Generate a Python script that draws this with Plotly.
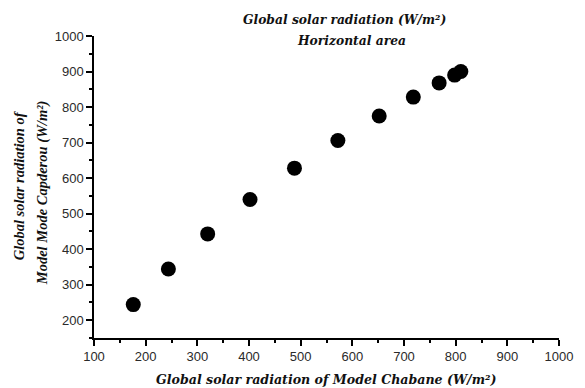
import plotly.graph_objects as go

chabane = [176, 244, 320, 402, 488, 572, 652, 718, 768, 798, 810]
capderou = [244, 344, 443, 540, 628, 706, 775, 828, 868, 890, 900]

x_ticks = [100, 200, 300, 400, 500, 600, 700, 800, 900, 1000]
y_ticks = [200, 300, 400, 500, 600, 700, 800, 900, 1000]

title_line1 = "Global solar radiation (W/m²)"
title_line2 = "Horizontal area"
x_title = "Global solar radiation of Model Chabane (W/m²)"
y_title_1 = "Global solar radiation of"
y_title_2 = "Model Mode Capderou (W/m²)"

fig = go.Figure()
fig.add_trace(go.Scatter(
    x=chabane, y=capderou, mode="markers",
    marker=dict(color="black", size=15, line=dict(width=0)),
    showlegend=False,
))

tickfont = dict(family="Liberation Sans, Arial, sans-serif", size=13, color="#2a2a2a")
title_font = dict(family="DejaVu Serif, serif", size=12.3, color="#111")
xt_font = dict(family="DejaVu Serif, serif", size=12.6, color="#111")
tall_font = dict(family="Liberation Serif, Times New Roman, serif", size=14.5, color="#111")

fig.update_layout(
    width=585, height=388,
    margin=dict(l=94, r=24, t=36, b=50),
    paper_bgcolor="white", plot_bgcolor="white",
    xaxis=dict(range=[100, 1000], tickvals=x_ticks, showgrid=False, zeroline=False,
               showline=True, linecolor="black", linewidth=1.5,
               ticks="outside", ticklen=6, tickwidth=1.5, tickcolor="black",
               minor=dict(dtick=50, ticks="outside", ticklen=3, tickwidth=1.5, tickcolor="black"),
               tickfont=tickfont),
    yaxis=dict(range=[150, 1000], tickvals=y_ticks, showgrid=False, zeroline=False,
               showline=True, linecolor="black", linewidth=1.5,
               ticks="outside", ticklen=6, tickwidth=1.5, tickcolor="black",
               minor=dict(dtick=50, tick0=0, ticks="outside", ticklen=3, tickwidth=1.5, tickcolor="black"),
               tickfont=tickfont),
)

W, H = 585, 388
L, B = 94, 50
pw, ph = W - L - 24, H - 36 - B

def px(xp):
    return (xp - L) / pw

def py(yp):
    return (H - B - yp) / ph

def ann(text, x, y, font, angle=0):
    fig.add_annotation(text="<b><i>" + text + "</i></b>", x=px(x), y=py(y),
                       xref="paper", yref="paper", xanchor="center", yanchor="middle",
                       showarrow=False, textangle=angle, font=font)

ann(title_line1, 346, 20, title_font)
ann(title_line2, 353, 41, title_font)
ann(x_title, 327, 379, xt_font)
ann(y_title_1, 19, 185, tall_font, -90)
ann(y_title_2, 42, 193, tall_font, -90)

fig.write_html("out.html")
